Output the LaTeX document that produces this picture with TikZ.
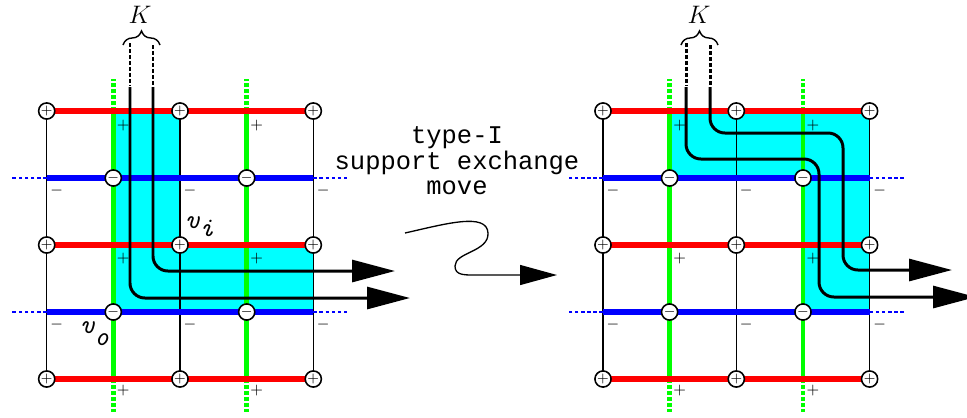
\documentclass[tikz,border=0pt]{standalone}
\usepackage{fontspec}
\newfontfamily\courfont{Liberation Mono}
\usetikzlibrary{arrows.meta, decorations.pathreplacing}
\definecolor{aqua}{RGB}{0,255,255}
\definecolor{lime}{RGB}{0,255,0}

\begin{document}
\begin{tikzpicture}[x=0.02cm, y=-0.02cm,
  vertex/.style={circle, draw, fill=white, line width=0.9pt, minimum size=9.2pt, inner sep=0pt, font=\footnotesize},
  sign/.style={inner sep=0pt, font=\small},
  redline/.style={red, line width=3.6pt},
  blueline/.style={blue, line width=3.2pt},
  greenline/.style={lime, line width=2.6pt},
  greenext/.style={lime, line width=2.6pt, dash pattern=on 2.3pt off 1.1pt},
  blueext/.style={blue, line width=0.8pt, dash pattern=on 2pt off 1.5pt},
  strand/.style={line width=1.7pt, rounded corners=8.5pt, -{Triangle[length=0.86cm, width=0.44cm]}},
  strandtop/.style={line width=1.7pt, dash pattern=on 2.3pt off 1.1pt},
  vfont/.style={font=\ttfamily\itshape\fontsize{15.5}{15.5}\selectfont}
]
\useasboundingbox (0,0) rectangle (967,417);

% grid points, left and right lattice
\foreach \g/\dx in {L/0, R/556.3}
  \foreach \c/\x in {1/46.7, 2/113.3, 3/180, 4/246.7, 5/313.3}
    \foreach \r/\y in {1/111, 2/178, 3/245, 4/312, 5/379}
      \coordinate (\g\c\r) at (\x+\dx, \y);

% support regions
\fill[aqua] (L21) -- (L31) -- (L33) -- (L53) -- (L54) -- (L24) -- cycle;
\fill[aqua] (R21) -- (R51) -- (R54) -- (R44) -- (R42) -- (R22) -- cycle;

\foreach \g in {L, R} {
  \draw[line width=0.8pt] (\g11) -- (\g15);
  \draw[line width=0.8pt] (\g31) -- (\g35);
  \draw[line width=0.8pt] (\g51) -- (\g55);
  \draw[greenline] (\g21) -- (\g25);
  \draw[greenline] (\g41) -- (\g45);
  \draw[greenext] (\g21) -- ++(0,-32);
  \draw[greenext] (\g41) -- ++(0,-32);
  \draw[greenext] (\g25) -- ++(0,33);
  \draw[greenext] (\g45) -- ++(0,33);
  \draw[redline] (\g11) -- (\g51);
  \draw[redline] (\g13) -- (\g53);
  \draw[redline] (\g15) -- (\g55);
  \draw[blueline] (\g12) -- (\g52);
  \draw[blueline] (\g14) -- (\g54);
  \draw[blueext] (\g12) -- ++(-35,0);
  \draw[blueext] (\g14) -- ++(-35,0);
  \draw[blueext] (\g52) -- ++(34,0);
  \draw[blueext] (\g54) -- ++(34,0);
  \foreach \c in {1,3,5}
    \foreach \r in {1,3,5}
      \node[vertex] (\g p\c\r) at (\g\c\r) {$+$};
  \foreach \c in {2,4}
    \foreach \r in {2,4}
      \node[vertex] (\g m\c\r) at (\g\c\r) {$-$};
  \foreach \r/\s in {1/15, 3/14, 5/12}
    \foreach \c in {2,4}
      \node[sign] (\g s\c\r) at ([shift={(10,\s)}]\g\c\r) {$+$};
  \foreach \c in {1,3,5}
    \foreach \r in {2,4}
      \node[sign] (\g n\c\r) at ([shift={(10,13)}]\g\c\r) {$-$};
}

% strands, left
\coordinate (La) at (130,43);
\coordinate (Lb) at (153,45);
\coordinate (Lc) at (130,87);
\coordinate (Ld) at (153,87);
\coordinate (Le) at (410,298);
\coordinate (Lf) at (395,271);
\draw[strandtop] (La) -- (130,85);
\draw[strandtop] (Lb) -- (153,85);
\draw[strand] (Lc) -- (130,298) -- (Le);
\draw[strand] (Ld) -- (153,271) -- (Lf);
\draw[decorate, decoration={brace, amplitude=8pt}, line width=0.8pt] (123,45) -- (160,45);
\node (KL) at (140,15) {\Large $K$};

% strands, right
\coordinate (Ra) at (686,43);
\coordinate (Rb) at (710,45);
\coordinate (Rc) at (686,87);
\coordinate (Rd) at (710,87);
\coordinate (Re) at (976,297);
\coordinate (Rf) at (952,270);
\draw[strandtop] (Ra) -- (686,85);
\draw[strandtop] (Rb) -- (710,85);
\draw[strand] (Rc) -- (686,159) -- (819,159) -- (819,297) -- (Re);
\draw[strand] (Rd) -- (710,133) -- (843,133) -- (843,270) -- (Rf);
\draw[decorate, decoration={brace, amplitude=8pt}, line width=0.8pt] (681,45) -- (718,45);
\node (KR) at (699,15) {\Large $K$};

\node[vfont, anchor=base west, inner sep=0pt] (vi) at (185,228) {v\raisebox{-5pt}{i}};
\node[vfont, anchor=base west, inner sep=0pt] (vo) at (80,333) {v\raisebox{-7pt}{o}};

% the move
\node[align=center, font=\courfont\fontsize{14.5}{14.5}\selectfont] (move) at (457,161) {type-I\\support exchange\\move};
\coordinate (sq0) at (405,233);
\coordinate (sq1) at (557,275);
\draw[line width=0.75pt, -{Triangle[length=0.74cm, width=0.4cm]}] (sq0) .. controls (445,224) and (487,212) .. (488,233) .. controls (489,252) and (455,252) .. (455,266) .. controls (455,276) and (465,275) .. (480,275) -- (sq1);
\end{tikzpicture}
\end{document}
